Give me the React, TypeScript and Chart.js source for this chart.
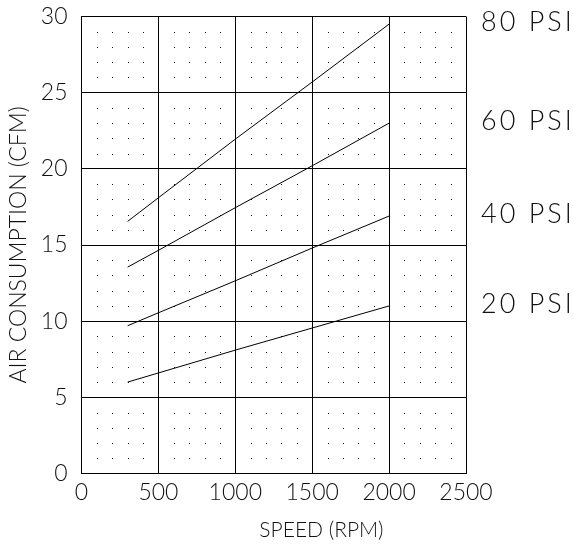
import React, { useEffect, useRef } from 'react';
import { Chart, registerables } from 'chart.js';

Chart.register(...registerables);

// ---- data ----
const speedRpm = [300, 500, 1000, 1500, 2000];
const psi20 = [6.0, 6.6, 8.1, 9.55, 11.0];
const psi40 = [9.7, 10.55, 12.65, 14.8, 16.9];
const psi60 = [13.55, 14.65, 17.45, 20.2, 23.0];
const psi80 = [16.55, 18.1, 21.95, 25.7, 29.5];
const seriesLabels = ['20 PSI', '40 PSI', '60 PSI', '80 PSI'];
const xRange = [0, 2500];
const yRange = [0, 30];
const xMajorStep = 500;
const yMajorStep = 5;
const xDotStep = 100;
const yDotStep = 1;
const xTitle = 'SPEED (RPM)';
const yTitle = 'AIR CONSUMPTION (CFM)';

const FONT = 'Lato';
const INK = '#111';

const toPoints = (ys: number[]) => speedRpm.map((x, i) => ({ x, y: ys[i] }));

const dotGridPlugin = {
  id: 'dotGrid',
  beforeDatasetsDraw(chart: any) {
    const { ctx, scales } = chart;
    const xs = scales.x;
    const ys = scales.y;
    ctx.save();
    ctx.fillStyle = '#111';
    for (let vx = xRange[0] + xDotStep; vx < xRange[1]; vx += xDotStep) {
      if (vx % xMajorStep === 0) continue;
      const px = Math.round(xs.getPixelForValue(vx));
      for (let vy = yRange[0] + yDotStep; vy < yRange[1]; vy += yDotStep) {
        if (vy % yMajorStep === 0) continue;
        const py = Math.round(ys.getPixelForValue(vy));
        ctx.fillRect(px, py, 1, 1);
      }
    }
    ctx.restore();
  },
};

const textPlugin = {
  id: 'extraText',
  afterDatasetsDraw(chart: any) {
    const { ctx, chartArea, scales } = chart;
    ctx.save();
    ctx.fillStyle = INK;
    // series labels to the right of the plot
    ctx.font = `300 27px ${FONT}`;
    (ctx as any).letterSpacing = '3px';
    ctx.textAlign = 'left';
    ctx.textBaseline = 'middle';
    chart.data.datasets.forEach((ds: any) => {
      const last = ds.data[ds.data.length - 1];
      const py = scales.y.getPixelForValue(last.y);
      ctx.fillText(ds.label, chartArea.right + 15, py - 2);
    });
    // x axis title (sits right of centre in the reference)
    (ctx as any).letterSpacing = '0px';
    ctx.font = `300 21px ${FONT}`;
    ctx.textAlign = 'center';
    ctx.textBaseline = 'alphabetic';
    ctx.fillText(xTitle, scales.x.getPixelForValue(1560), 537);
    ctx.restore();
  },
};

export default function App() {
  const canvasRef = useRef<HTMLCanvasElement | null>(null);

  useEffect(() => {
    const canvas = canvasRef.current;
    if (!canvas) return;
    const series = [psi20, psi40, psi60, psi80];
    const chart = new Chart(canvas, {
      type: 'scatter',
      data: {
        datasets: series.map((s, i) => ({
          label: seriesLabels[i],
          data: toPoints(s),
          showLine: true,
          borderColor: '#000',
          borderWidth: 1,
          pointRadius: 0,
          fill: false,
        })),
      },
      options: {
        animation: false,
        responsive: false,
        devicePixelRatio: 1,
        layout: { padding: { top: 16.5, right: 107, left: 0, bottom: 0 } },
        plugins: {
          legend: { display: false },
          tooltip: { enabled: false },
        },
        scales: {
          x: {
            type: 'linear',
            min: xRange[0],
            max: xRange[1],
            ticks: {
              stepSize: xMajorStep,
              color: INK,
              padding: 5,
              font: { family: FONT, size: 23, weight: '300' },
              callback: (v: any) => String(v),
            },
            grid: { color: '#000', lineWidth: 1, drawTicks: false },
            border: { display: true, color: '#000', width: 1 },
            title: { display: false, text: xTitle },
            afterFit: (s: any) => {
              s.height = 72.5;
              s.paddingLeft = 0;
              s.paddingRight = 0;
            },
          },
          y: {
            type: 'linear',
            min: yRange[0],
            max: yRange[1],
            ticks: {
              stepSize: yMajorStep,
              color: INK,
              padding: 14,
              font: { family: FONT, size: 23, weight: '300' },
              callback: (v: any) => String(v),
            },
            grid: { color: '#000', lineWidth: 1, drawTicks: false },
            border: { display: true, color: '#000', width: 1 },
            title: {
              display: true,
              text: yTitle,
              color: INK,
              font: { family: FONT, size: 23, weight: '300' },
              padding: { top: 5, bottom: 0 },
            },
            afterFit: (s: any) => {
              s.width = 81.5;
              s.paddingTop = 0;
              s.paddingBottom = 0;
            },
          },
        },
      } as any,
      plugins: [dotGridPlugin, textPlugin],
    });
    return () => chart.destroy();
  }, []);

  return (
    <div style={{ position: 'absolute', left: 0, top: 0, width: 573, height: 546 }}>
      <canvas ref={canvasRef} width={573} height={546} style={{ display: 'block' }} />
    </div>
  );
}
